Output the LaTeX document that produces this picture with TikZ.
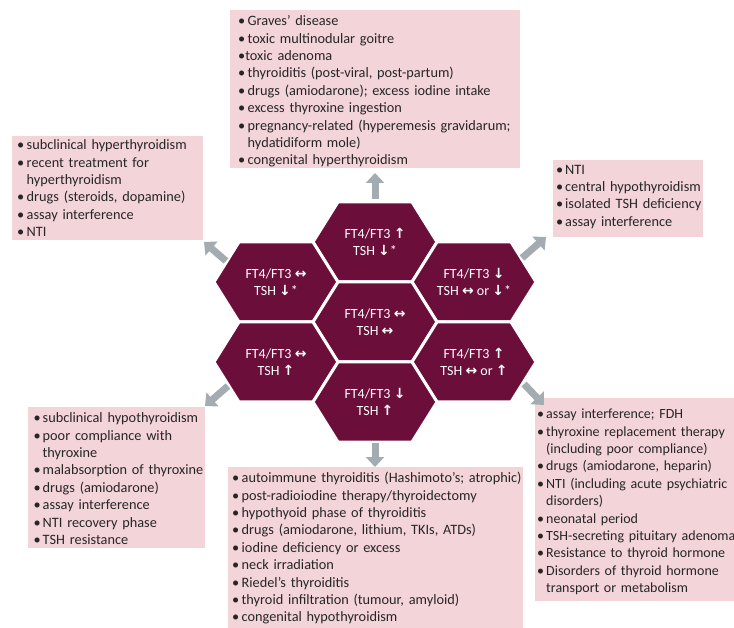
\documentclass[tikz,border=0pt]{standalone}
\usepackage{fontspec}
\setmainfont{Carlito}
\newfontfamily\arrfont{DejaVu Sans}
\usetikzlibrary{arrows.meta}
\definecolor{hexred}{RGB}{108,14,58}
\definecolor{boxpink}{RGB}{243,212,217}
\definecolor{arrgray}{RGB}{163,172,177}
\newcommand{\ua}{{\arrfont\bfseries\fontsize{14}{14}\selectfont ↑}}
\newcommand{\da}{{\arrfont\bfseries\fontsize{14}{14}\selectfont ↓}}
\newcommand{\lra}{{\arrfont\bfseries\fontsize{14}{14}\selectfont ↔}}
\newlength{\bw}
\setlength{\bw}{9.5pt}
\newcommand{\bitem}[1]{\makebox[\bw][l]{•}#1}
\newcommand{\citem}[1]{\hspace*{\bw}#1}
\newcommand{\fstrut}{\rule{0pt}{12pt}}
\newcommand{\hexshape}[2]{\filldraw[hexfill] (#1-62,#2) -- (#1-37,#2-40) -- (#1+37,#2-40) -- (#1+62,#2) -- (#1+37,#2+40) -- (#1-37,#2+40) -- cycle;}
\tikzset{
  hexfill/.style={fill=hexred, draw=white, line width=3pt, line join=miter},
  hextext/.style={text=white, align=center, font=\fontsize{14}{17}\selectfont, inner sep=0pt},
  pinkbox/.style={fill=boxpink, draw=none, anchor=north west, inner sep=0pt},
  listtext/.style={anchor=north west, inner sep=0pt, align=left, text width=300pt, font=\fontsize{14.3}{17.4}\selectfont, text=black!85},
  grayarrow/.style={draw=arrgray, line width=7pt, -{Triangle[width=18pt,length=10pt]}, arrgray}
}
\begin{document}
\begin{tikzpicture}[x=1pt,y=-1pt]
\useasboundingbox (0,0) rectangle (734,628);
\fill[white] (0,0) rectangle (734,628);

% pink boxes
\node[pinkbox, minimum width=290pt, minimum height=158pt] (bTop) at (230,10) {};
\node[pinkbox, minimum width=191pt, minimum height=104pt] (bUL) at (12,136) {};
\node[pinkbox, minimum width=150pt, minimum height=77pt] (bUR) at (553,160) {};
\node[pinkbox, minimum width=177pt, minimum height=141pt] (bLL) at (28,407) {};
\node[pinkbox, minimum width=205pt, minimum height=203pt] (bLR) at (535,398) {};
\node[pinkbox, minimum width=295pt, minimum height=165pt] (bBot) at (228,467) {};

% list texts
\node[listtext] (tTop) at (238,13.5) {\setlength{\bw}{9.5pt}\fstrut\bitem{Graves’ disease}\\
\bitem{toxic multinodular goitre}\\
•toxic adenoma\\
\bitem{thyroiditis (post-viral, post-partum)}\\
\bitem{drugs (amiodarone); excess iodine intake}\\
\bitem{excess thyroxine ingestion}\\
\bitem{pregnancy-related (hyperemesis gravidarum;}\\
\citem{hydatidiform mole)}\\
\bitem{congenital hyperthyroidism}};

\node[listtext] (tUL) at (17,137.5) {\setlength{\bw}{9.5pt}\fstrut\bitem{subclinical hyperthyroidism}\\
\bitem{recent treatment for}\\
\citem{hyperthyroidism}\\
\bitem{drugs (steroids, dopamine)}\\
\bitem{assay interference}\\
\bitem{NTI}};

\node[listtext] (tUR) at (556,162) {\setlength{\bw}{9pt}\fstrut\bitem{NTI}\\
\bitem{central hypothyroidism}\\
\bitem{isolated TSH deficiency}\\
\bitem{assay interference}};

\node[listtext] (tLL) at (33.5,410.5) {\setlength{\bw}{9pt}\fstrut\bitem{subclinical hypothyroidism}\\
\bitem{poor compliance with}\\
\citem{thyroxine}\\
\bitem{malabsorption of thyroxine}\\
\bitem{drugs (amiodarone)}\\
\bitem{assay interference}\\
\bitem{NTI recovery phase}\\
\bitem{TSH resistance}};

\node[listtext, font=\fontsize{14}{17.4}\selectfont] (tLR) at (537,406.5) {\setlength{\bw}{9pt}\fstrut\bitem{assay interference; FDH}\\
\bitem{thyroxine replacement therapy}\\
\citem{(including poor compliance)}\\
\bitem{drugs (amiodarone, heparin)}\\
\bitem{NTI (including acute psychiatric}\\
\citem{disorders)}\\
\bitem{neonatal period}\\
\bitem{TSH-secreting pituitary adenoma}\\
\bitem{Resistance to thyroid hormone}\\
\bitem{Disorders of thyroid hormone}\\
\citem{transport or metabolism}};

\node[listtext] (tBot) at (232,470.5) {\setlength{\bw}{9.5pt}\fstrut\bitem{autoimmune thyroiditis (Hashimoto’s; atrophic)}\\
\bitem{post-radioiodine therapy/thyroidectomy}\\
\bitem{hypothyoid phase of thyroiditis}\\
\bitem{drugs (amiodarone, lithium, TKIs, ATDs)}\\
\bitem{iodine deficiency or excess}\\
\bitem{neck irradiation}\\
\bitem{Riedel’s thyroiditis}\\
\bitem{thyroid infiltration (tumour, amyloid)}\\
\bitem{congenital hypothyroidism}};

% hexagons
\hexshape{375}{242}
\hexshape{276}{282}
\hexshape{474}{282}
\hexshape{375}{322}
\hexshape{276}{362}
\hexshape{474}{362}
\hexshape{375}{402}
\node[hextext] (hTop) at (375,242) {FT4/FT3 \ua\\TSH \da*};
\node[hextext] (hUL) at (276,282) {FT4/FT3 \lra\\TSH \da*};
\node[hextext] (hUR) at (474,282) {FT4/FT3 \da\\TSH \lra{} or \da*};
\node[hextext] (hC) at (375,322) {FT4/FT3 \lra\\TSH \lra};
\node[hextext] (hLL) at (276,362) {FT4/FT3 \lra\\TSH \ua};
\node[hextext] (hLR) at (474,362) {FT4/FT3 \ua\\TSH \lra{} or \ua};
\node[hextext] (hBot) at (375,402) {FT4/FT3 \da\\TSH \ua};

% arrows
\coordinate (aTopS) at (375,199);
\coordinate (aTopE) at (375,173);
\coordinate (aULS) at (226,261);
\coordinate (aULE) at (204,242);
\coordinate (aURS) at (522,258);
\coordinate (aURE) at (546,237);
\coordinate (aLLS) at (228,386);
\coordinate (aLLE) at (205,406);
\coordinate (aLRS) at (524,384);
\coordinate (aLRE) at (544,405);
\coordinate (aBotS) at (375,443);
\coordinate (aBotE) at (375,467);
\draw[grayarrow] (aTopS) -- (aTopE);
\draw[grayarrow] (aULS) -- (aULE);
\draw[grayarrow] (aURS) -- (aURE);
\draw[grayarrow] (aLLS) -- (aLLE);
\draw[grayarrow] (aLRS) -- (aLRE);
\draw[grayarrow] (aBotS) -- (aBotE);
\end{tikzpicture}
\end{document}
